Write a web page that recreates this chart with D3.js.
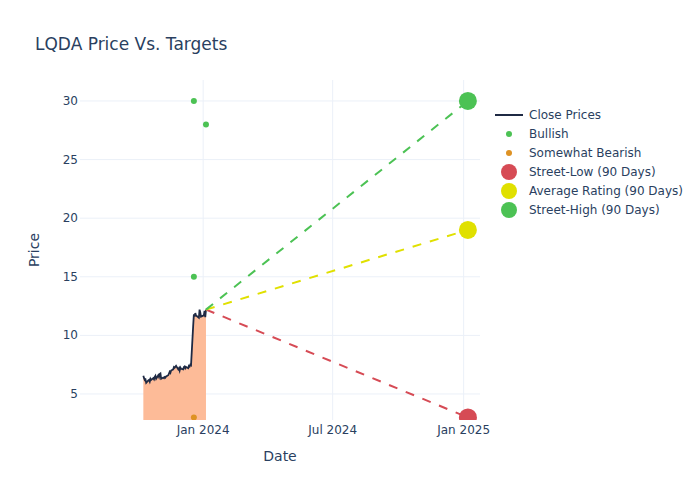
<!DOCTYPE html>
<html>
<head>
<meta charset="utf-8">
<script src="https://cdn.jsdelivr.net/npm/d3@7"></script>
<style>
  body { margin: 0; background: #fff; }
  svg text { font-family: "DejaVu Sans", "Open Sans", sans-serif; fill: #2a3f5f; }
</style>
</head>
<body>
<svg id="chart" width="700" height="500"></svg>
<script>
// close prices, trading days Oct 9 2023 - Jan 5 2024
const priceDates = [
  "2023-10-09","2023-10-10","2023-10-11","2023-10-12","2023-10-13",
  "2023-10-16","2023-10-17","2023-10-18","2023-10-19","2023-10-20",
  "2023-10-23","2023-10-24","2023-10-25","2023-10-26","2023-10-27",
  "2023-10-30","2023-10-31","2023-11-01","2023-11-02","2023-11-03",
  "2023-11-06","2023-11-07","2023-11-08","2023-11-09","2023-11-10",
  "2023-11-13","2023-11-14","2023-11-15","2023-11-16","2023-11-17",
  "2023-11-20","2023-11-21","2023-11-22","2023-11-24",
  "2023-11-27","2023-11-28","2023-11-29","2023-11-30","2023-12-01",
  "2023-12-04","2023-12-05","2023-12-06","2023-12-07","2023-12-08",
  "2023-12-11","2023-12-12","2023-12-13","2023-12-14","2023-12-15",
  "2023-12-18","2023-12-19","2023-12-20","2023-12-21","2023-12-22",
  "2023-12-26","2023-12-27","2023-12-28","2023-12-29",
  "2024-01-02","2024-01-03","2024-01-04","2024-01-05"
];
const closePrices = [
  6.55, 6.35, 6.2, 6.25, 5.95,
  6.15, 6.2, 6.05, 6.3, 6.2,
  6.35, 6.25, 6.45, 6.55, 6.3,
  6.6, 6.45, 6.7, 6.75, 6.3,
  6.4, 6.35, 6.45, 6.4, 6.5,
  6.6, 6.75, 6.9, 6.8, 7.0,
  7.1, 7.3, 7.25, 7.4,
  7.1, 7.2, 7.0, 7.25, 7.15,
  7.1, 7.3, 7.35, 7.2, 7.3,
  7.2, 7.4, 7.35, 7.5, 7.45,
  10.8, 11.8, 11.6, 11.9, 11.7,
  11.5, 12.2, 11.95, 11.6,
  11.7, 12.1, 11.55, 12.2
];

// analyst ratings
const bullishDates = ["2023-12-19", "2023-12-19", "2024-01-05"];
const bullishTargets = [30, 15, 28];
const bearishDates = ["2023-12-19"];
const bearishTargets = [3];

// 90 day street targets
const targetDate = "2025-01-07";
const targetNames = ["Street-Low (90 Days)", "Average Rating (90 Days)", "Street-High (90 Days)"];
const targetValues = [3, 19, 30];
const targetColors = ["#d64b55", "#e0e000", "#4cc254"];

const yTicks = [5, 10, 15, 20, 25, 30];
const xTicks = ["2024-01-01", "2024-07-01", "2025-01-01"];
const xTickLabels = ["Jan 2024", "Jul 2024", "Jan 2025"];

const parse = d3.utcParse("%Y-%m-%d");
const svg = d3.select("#chart");
const m = {left: 80, right: 480, top: 80, bottom: 420};

const x = d3.scaleUtc()
  .domain([parse("2023-07-12"), parse("2025-01-24")])
  .range([m.left, m.right]);
const y = d3.scaleLinear().domain([2.78, 31.79]).range([m.bottom, m.top]);

svg.append("defs").append("clipPath").attr("id", "plotclip")
  .append("rect").attr("x", m.left).attr("y", m.top)
  .attr("width", m.right - m.left).attr("height", m.bottom - m.top);

// grid
const grid = svg.append("g");
grid.selectAll("line.h").data(yTicks).enter().append("line")
  .attr("x1", m.left).attr("x2", m.right)
  .attr("y1", d => y(d)).attr("y2", d => y(d))
  .attr("stroke", "#ebf0f8").attr("stroke-width", 1);
grid.selectAll("line.v").data(xTicks).enter().append("line")
  .attr("x1", d => x(parse(d))).attr("x2", d => x(parse(d)))
  .attr("y1", m.top).attr("y2", m.bottom)
  .attr("stroke", "#ebf0f8").attr("stroke-width", 1);

// tick labels
svg.selectAll("text.yt").data(yTicks).enter().append("text")
  .attr("x", m.left - 2).attr("y", d => y(d) + 4)
  .attr("text-anchor", "end").style("font-size", "12px")
  .text(d => d);
svg.selectAll("text.xt").data(xTicks).enter().append("text")
  .attr("x", d => x(parse(d))).attr("y", m.bottom + 14)
  .attr("text-anchor", "middle").style("font-size", "12px")
  .text((d, i) => xTickLabels[i]);

// axis titles
svg.append("text").attr("x", (m.left + m.right) / 2).attr("y", 461)
  .attr("text-anchor", "middle").style("font-size", "14px").text("Date");
svg.append("text")
  .attr("transform", `translate(39,${(m.top + m.bottom) / 2}) rotate(-90)`)
  .attr("text-anchor", "middle").style("font-size", "14px").text("Price");

svg.append("text").attr("x", 35).attr("y", 50)
  .style("font-size", "17px").text("LQDA Price Vs. Targets");

const plot = svg.append("g").attr("clip-path", "url(#plotclip)");

const prices = priceDates.map((d, i) => ({date: parse(d), value: closePrices[i]}));
const last = prices[prices.length - 1];

plot.append("path").datum(prices)
  .attr("d", d3.area().x(d => x(d.date)).y0(y(0)).y1(d => y(d.value)))
  .attr("fill", "#fdbb98");

plot.append("path").datum(prices)
  .attr("d", d3.line().x(d => x(d.date)).y(d => y(d.value)))
  .attr("fill", "none").attr("stroke", "#1f2a44").attr("stroke-width", 1.8);

// dashed lines to targets
targetValues.forEach((v, i) => {
  plot.append("line")
    .attr("x1", x(last.date)).attr("y1", y(last.value))
    .attr("x2", x(parse(targetDate))).attr("y2", y(v))
    .attr("stroke", targetColors[i]).attr("stroke-width", 2)
    .attr("stroke-dasharray", "9,9");
});

plot.selectAll("circle.bull").data(bullishDates).enter().append("circle")
  .attr("cx", d => x(parse(d))).attr("cy", (d, i) => y(bullishTargets[i]))
  .attr("r", 3).attr("fill", "#4cc254");
plot.selectAll("circle.bear").data(bearishDates).enter().append("circle")
  .attr("cx", d => x(parse(d))).attr("cy", (d, i) => y(bearishTargets[i]))
  .attr("r", 3).attr("fill", "#de9224");

plot.selectAll("circle.tgt").data(targetValues).enter().append("circle")
  .attr("cx", x(parse(targetDate))).attr("cy", d => y(d))
  .attr("r", 9).attr("fill", (d, i) => targetColors[i]);

// legend
const legendItems = [
  {name: "Close Prices", type: "line", color: "#1f2a44"},
  {name: "Bullish", type: "dot", color: "#4cc254", r: 3},
  {name: "Somewhat Bearish", type: "dot", color: "#de9224", r: 3}
].concat(targetNames.map((n, i) => ({name: n, type: "dot", color: targetColors[i], r: 8})));

const legend = svg.append("g").attr("transform", "translate(494,115)");
legendItems.forEach((d, i) => {
  const g = legend.append("g").attr("transform", `translate(0,${i * 19})`);
  if (d.type === "line") {
    g.append("line").attr("x1", 1).attr("x2", 29).attr("y1", 0).attr("y2", 0)
      .attr("stroke", d.color).attr("stroke-width", 2);
  } else {
    g.append("circle").attr("cx", 15).attr("cy", 0).attr("r", d.r).attr("fill", d.color);
  }
  g.append("text").attr("x", 35).attr("y", 4).style("font-size", "12px").text(d.name);
});
</script>
</body>
</html>
